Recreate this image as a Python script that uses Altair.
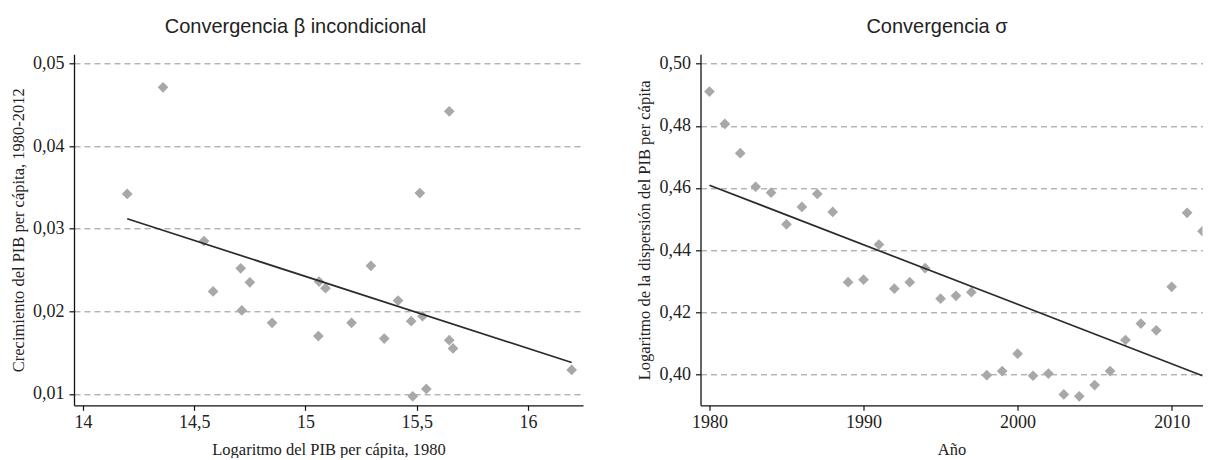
import altair as alt
import pandas as pd

# ---- Convergencia beta incondicional ----
beta_x = [14.199, 14.36, 14.544, 14.585, 14.709, 14.714, 14.750, 14.850, 15.058, 15.061,
          15.090, 15.207, 15.294, 15.354, 15.416, 15.475, 15.482, 15.514, 15.526, 15.543,
          15.646, 15.646, 15.663, 16.196]
beta_y = [0.0342, 0.0471, 0.0285, 0.0224, 0.0252, 0.0201, 0.0235, 0.0186, 0.0170, 0.0236,
          0.0228, 0.0186, 0.0255, 0.0167, 0.0213, 0.0188, 0.0097, 0.0343, 0.0194, 0.0106,
          0.0442, 0.0165, 0.0155, 0.0129]
beta_fit_x = [14.199, 16.196]
beta_fit_y = [0.0312, 0.0138]
beta_xticks = [14, 14.5, 15, 15.5, 16]
beta_yticks = [0.01, 0.02, 0.03, 0.04, 0.05]

# ---- Convergencia sigma ----
sigma_years = list(range(1980, 2013))
sigma_vals = [0.4910, 0.4806, 0.4712, 0.4604, 0.4585, 0.4483, 0.4539, 0.4581, 0.4523, 0.4297,
              0.4305, 0.4418, 0.4276, 0.4297, 0.4342, 0.4244, 0.4253, 0.4265, 0.3998, 0.4011,
              0.4067, 0.3996, 0.4003, 0.3936, 0.3930, 0.3966, 0.4011, 0.4111, 0.4164, 0.4142,
              0.4282, 0.4520, 0.4461]
sigma_fit_x = [1980, 2012]
sigma_fit_y = [0.4609, 0.3996]
sigma_xticks = [1980, 1990, 2000, 2010]
sigma_yticks = [0.40, 0.42, 0.44, 0.46, 0.48, 0.50]

PT_COLOR = "#a8a8a8"
LINE_COLOR = "#2b2b2b"
H = 351

beta_df = pd.DataFrame({"x": beta_x, "y": beta_y})
beta_fit = pd.DataFrame({"x": beta_fit_x, "y": beta_fit_y})
sigma_df = pd.DataFrame({"x": sigma_years, "y": sigma_vals})
sigma_fit = pd.DataFrame({"x": sigma_fit_x, "y": sigma_fit_y})

comma2 = "replace(format(datum.value, '.2f'), '.', ',')"
commaX = "replace(datum.label, '.', ',')"


def panel(df, fit, xdom, ydom, xticks, yticks, xtitle, ytitle, title, xlabel_expr, xfmt, tdx, width):
    xs = alt.Scale(domain=xdom, nice=False, zero=False)
    ys = alt.Scale(domain=ydom, nice=False, zero=False)
    xax = alt.Axis(values=xticks, title=xtitle, grid=False, format=xfmt, labelExpr=xlabel_expr)
    yax = alt.Axis(values=yticks, title=ytitle, grid=True, labelExpr=comma2)
    pts = alt.Chart(df).mark_point(shape="diamond", filled=True, size=115, color=PT_COLOR,
                                   opacity=1, clip=True).encode(
        x=alt.X("x:Q", scale=xs, axis=xax),
        y=alt.Y("y:Q", scale=ys, axis=yax),
    )
    ln = alt.Chart(fit).mark_line(color=LINE_COLOR, strokeWidth=1.7, clip=True).encode(
        x=alt.X("x:Q", scale=xs),
        y=alt.Y("y:Q", scale=ys),
    )
    return alt.layer(pts, ln).properties(
        width=width, height=H,
        title=alt.TitleParams(title, anchor="middle", frame="group", font="Liberation Sans",
                              fontSize=20, fontWeight="normal", color="#222222",
                              baseline="alphabetic", offset=1.7, dx=tdx),
    )


left = panel(beta_df, beta_fit, [13.96, 16.247], [0.00862, 0.0511], beta_xticks, beta_yticks,
             "Logaritmo del PIB per cápita, 1980",
             "Crecimiento del PIB per cápita, 1980-2012",
             "Convergencia β incondicional", commaX, "", -33, 509)
right = panel(sigma_df, sigma_fit, [1979.42, 2012.0], [0.3901, 0.503], sigma_xticks, sigma_yticks,
              "Año",
              "Logaritmo de la dispersión del PIB per cápita",
              "Convergencia σ", "datum.label", "d", -14.5, 502)

chart = alt.hconcat(left, right, spacing=117.5, bounds="flush").properties(
    padding={"left": 2, "top": 8.3, "right": 0, "bottom": 0}
).configure_view(stroke=None).configure_axis(
    domainColor="#111111", domainWidth=1.3, tickColor="#111111", tickSize=5, tickWidth=1.2,
    labelFont="Liberation Serif", labelFontSize=18, labelColor="#222222",
    titleFont="Liberation Serif", titleFontSize=16.5, titleFontWeight="normal", titleColor="#222222",
    gridColor="#929292", gridDash=[6, 4], gridWidth=1,
).configure_axisY(titlePadding=6, labelPadding=5).configure_axisX(titlePadding=10, labelPadding=3)

chart.save("out.html", embed_options={"renderer": "svg", "actions": False})
